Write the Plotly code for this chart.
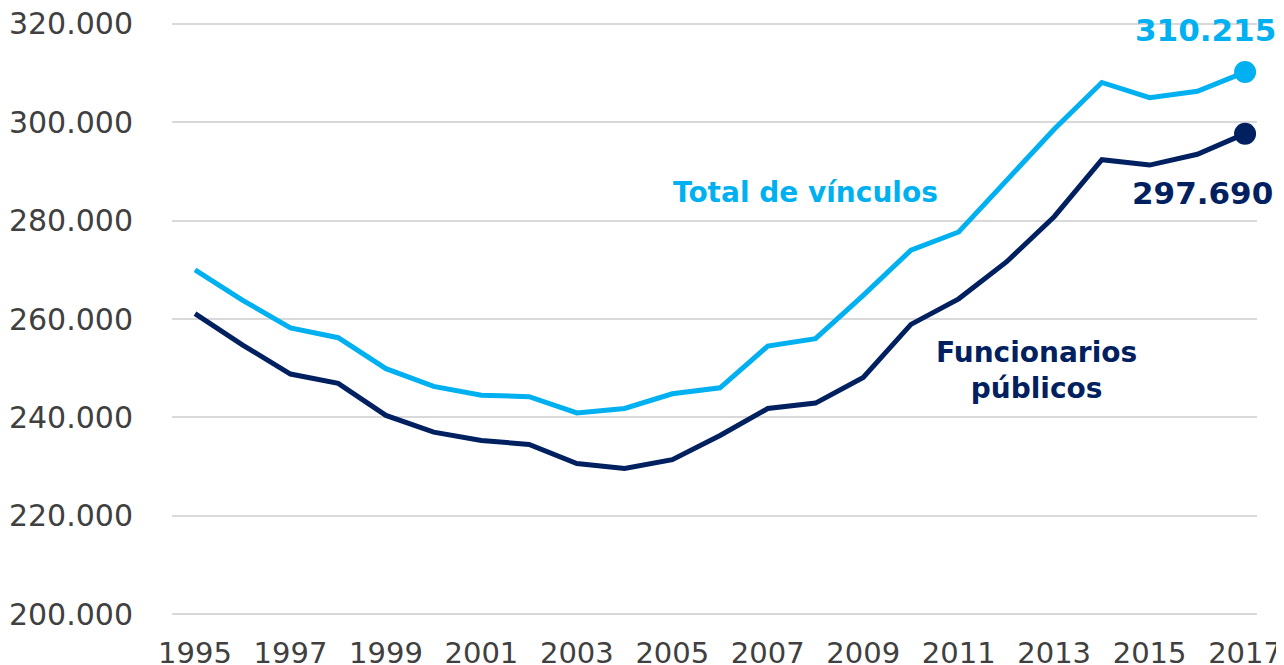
import plotly.graph_objects as go

years = list(range(1995, 2018))
total_vinculos = [270000, 263800, 258200, 256200, 249900, 246300, 244500, 244200,
                  240900, 241800, 244800, 246000, 254500, 256000, 264800, 274000,
                  277700, 288000, 298600, 308100, 305000, 306300, 310215]
funcionarios = [261100, 254700, 248800, 246900, 240400, 237000, 235300, 234500,
                230600, 229600, 231400, 236300, 241800, 242900, 248100, 258900,
                264100, 271600, 280800, 292400, 291300, 293500, 297690]

y_tickvals = [200000, 220000, 240000, 260000, 280000, 300000, 320000]
y_ticktext = ["200.000", "220.000", "240.000", "260.000", "280.000", "300.000", "320.000"]
x_tickvals = list(range(1995, 2018, 2))
x_ticktext = [str(v) for v in x_tickvals]

LIGHT = "#00B0F0"
DARK = "#002060"
FONT = "DejaVu Sans"

fig = go.Figure()
fig.add_trace(go.Scatter(x=years, y=total_vinculos, mode="lines",
                         line=dict(color=LIGHT, width=5), cliponaxis=False, hoverinfo="skip"))
fig.add_trace(go.Scatter(x=years, y=funcionarios, mode="lines",
                         line=dict(color=DARK, width=5), cliponaxis=False, hoverinfo="skip"))
fig.add_trace(go.Scatter(x=[years[-1]], y=[total_vinculos[-1]], mode="markers",
                         marker=dict(color=LIGHT, size=22), cliponaxis=False))
fig.add_trace(go.Scatter(x=[years[-1]], y=[funcionarios[-1]], mode="markers",
                         marker=dict(color=DARK, size=22), cliponaxis=False))

fig.add_annotation(x=2017, y=total_vinculos[-1], text="<b>310.215</b>", showarrow=False,
                   xanchor="right", yanchor="middle", xshift=33, yshift=42,
                   font=dict(family=FONT, size=31, color=LIGHT))
fig.add_annotation(x=2017, y=funcionarios[-1], text="<b>297.690</b>", showarrow=False,
                   xanchor="right", yanchor="middle", xshift=30, yshift=-59,
                   font=dict(family=FONT, size=31, color=DARK))
fig.add_annotation(x=2007.8, y=285800, text="<b>Total de vínculos</b>", showarrow=False,
                   xanchor="center", yanchor="middle",
                   font=dict(family=FONT, size=28, color=LIGHT))
fig.add_annotation(x=2012.62, y=249600, text="<b>Funcionarios<br>públicos</b>", showarrow=False,
                   xanchor="center", yanchor="middle",
                   font=dict(family=FONT, size=28, color=DARK))

fig.update_layout(
    width=1276, height=657,
    margin=dict(l=164, r=27, t=14, b=49),
    paper_bgcolor="white", plot_bgcolor="white",
    showlegend=False,
    font=dict(family=FONT, size=30, color="#404040"),
)
fig.update_xaxes(range=[1994.518, 2017.25], tickvals=x_tickvals, ticktext=x_ticktext,
                 showgrid=False, zeroline=False, showline=False, ticks="", automargin=False,
                 ticklabelstandoff=17, ticklabeloverflow="allow",
                 tickfont=dict(family=FONT, size=29, color="#404040"))
fig.update_yaxes(range=[199600, 320400], tickvals=y_tickvals, ticktext=y_ticktext,
                 showgrid=True, gridcolor="#D9D9D9", gridwidth=2, zeroline=False,
                 showline=False, ticks="", automargin=False, ticklabelstandoff=38,
                 ticklabeloverflow="allow",
                 tickfont=dict(family=FONT, size=30, color="#404040"))

fig.write_html("out.html")
